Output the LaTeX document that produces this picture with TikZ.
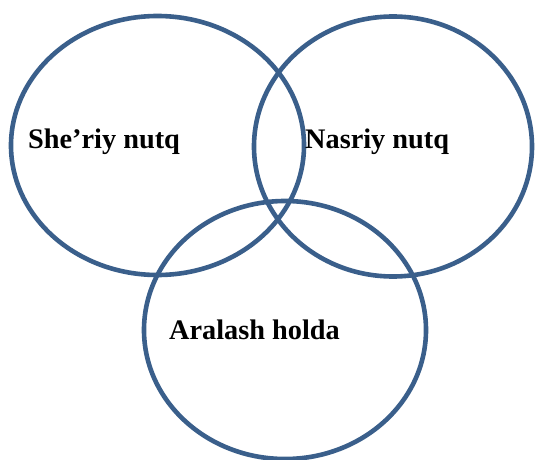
\documentclass[tikz,border=0pt]{standalone}
\usepackage{fontspec}
\setmainfont{Liberation Serif}
\usetikzlibrary{shapes.geometric}
\definecolor{ringblue}{RGB}{58,95,139}
\begin{document}
\begin{tikzpicture}[x=1pt,y=-1pt,
  ring/.style={ellipse,draw=ringblue,line width=4.6pt,inner sep=0pt},
  label/.style={anchor=base west,inner sep=0pt,font=\fontsize{28.3}{34}\selectfont\bfseries}]
  \useasboundingbox (0,0) rectangle (535,460);
  % three overlapping rings
  \node[ring,minimum width=293pt,minimum height=259pt] (left) at (157.5,145.5) {};
  \node[ring,minimum width=278pt,minimum height=260pt] (right) at (393,146.5) {};
  \node[ring,minimum width=282pt,minimum height=258pt] (bottom) at (285,330) {};
  % ring captions
  \node[label] (sheriy) at (28,148) {She’riy nutq};
  \node[label] (nasriy) at (305,148) {Nasriy nutq};
  \node[label] (aralash) at (169,339) {Aralash holda};
\end{tikzpicture}
\end{document}
